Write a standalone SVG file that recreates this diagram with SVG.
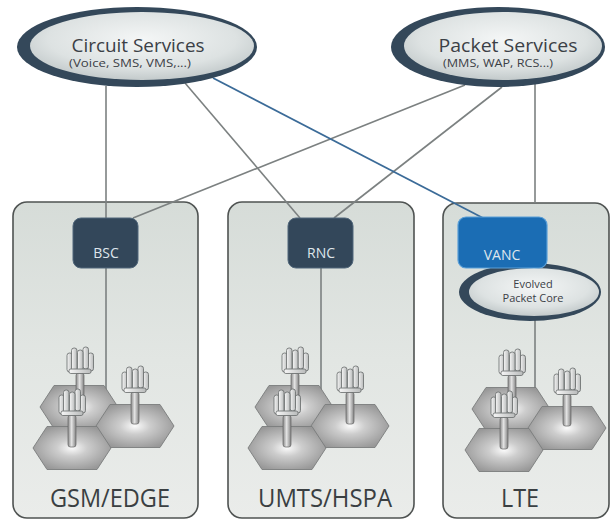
<svg xmlns="http://www.w3.org/2000/svg" xmlns:xlink="http://www.w3.org/1999/xlink" width="614" height="521" viewBox="0 0 614 521">
  <defs>
    <style>
      .panel { fill: url(#panelFill); stroke: #4f5352; stroke-width: 1.6; }
      .ring { fill: #34485a; }
      .core { fill: url(#coreFill); }
      .box { fill: #33475a; stroke: #51677b; stroke-width: 1; }
      .link { fill: none; stroke: #7c8181; stroke-width: 1.6; }
      .link-blue { fill: none; stroke: #3b6b98; stroke-width: 1.8; }
      .title { font-family: "Open Sans", "Liberation Sans", sans-serif; fill: #3b4046; }
      .boxtext { font-family: "Open Sans", "Liberation Sans", sans-serif; font-size: 14px; fill: #dfe6ec; text-anchor: middle; }
      .label { font-family: "Open Sans", "Liberation Sans", sans-serif; font-size: 25px; fill: #3a3f42; text-anchor: middle; }
      .hex { fill: url(#hexFill); stroke: #7b7d7d; stroke-width: 0.9; }
      .ant { fill: url(#antFill); stroke: #66696a; stroke-width: 0.8; }
      .pole { fill: url(#poleFill); stroke: #666; stroke-width: 0.7; }
    </style>
    <linearGradient id="panelFill" x1="0" y1="0" x2="0" y2="1">
      <stop offset="0" stop-color="#d6dcd8"/>
      <stop offset="0.5" stop-color="#e2e6e3"/>
      <stop offset="1" stop-color="#eaecea"/>
    </linearGradient>
    <radialGradient id="coreFill" cx="0.5" cy="0.4" r="0.6">
      <stop offset="0" stop-color="#f4f6f6"/>
      <stop offset="0.7" stop-color="#dde2e2"/>
      <stop offset="1" stop-color="#c3cacb"/>
    </radialGradient>
    <radialGradient id="hexFill" cx="0.5" cy="0.5" r="0.55">
      <stop offset="0" stop-color="#fbfbfb"/>
      <stop offset="0.35" stop-color="#cdcdcd"/>
      <stop offset="1" stop-color="#989898"/>
    </radialGradient>
    <linearGradient id="poleFill" x1="0" y1="0" x2="1" y2="0">
      <stop offset="0" stop-color="#8a8a8a"/>
      <stop offset="0.45" stop-color="#e4e4e4"/>
      <stop offset="1" stop-color="#828282"/>
    </linearGradient>
    <linearGradient id="antFill" x1="0" y1="0" x2="1" y2="0">
      <stop offset="0" stop-color="#f6f6f6"/>
      <stop offset="1" stop-color="#b9bbbb"/>
    </linearGradient>
    <polygon id="hex" class="hex" points="-39,0 -25,-21.5 25,-21.5 39,0 25,21.5 -25,21.5"/>
    <g id="tower">
      <rect class="pole" x="-4" y="-32" width="8" height="32" rx="2.5"/>
      <rect class="ant" x="-13" y="-52" width="5.5" height="19" rx="2.5"/>
      <rect class="ant" x="8" y="-52" width="5.5" height="18" rx="2.5"/>
      <rect class="ant" x="-8.5" y="-57" width="5.5" height="23" rx="2.5"/>
      <rect class="ant" x="3" y="-58" width="5.5" height="22" rx="2.5"/>
      <rect class="ant" x="-2.5" y="-55" width="5.5" height="21" rx="2.5"/>
      <rect class="ant" x="-11" y="-36" width="22" height="4.5" rx="1.8"/>
    </g>
    <!-- three hex cells with a tower on each; origin at panel's left edge -->
    <g id="cells">
      <use xlink:href="#hex" x="79" y="407"/>
      <use xlink:href="#hex" x="135" y="426"/>
      <use xlink:href="#hex" x="72" y="448"/>
      <use xlink:href="#tower" x="80" y="405"/>
      <use xlink:href="#tower" x="135" y="424"/>
      <use xlink:href="#tower" x="72" y="447"/>
    </g>
  </defs>

  <rect width="614" height="521" fill="#ffffff"/>

  <!-- access network panels -->
  <g id="panel-gsm">
    <rect class="panel" x="13" y="202" width="185" height="316" rx="14"/>
    <text class="label" x="110" y="507" textLength="120" lengthAdjust="spacingAndGlyphs">GSM/EDGE</text>
  </g>
  <g id="panel-umts">
    <rect class="panel" x="228" y="202" width="186" height="316" rx="14"/>
    <text class="label" x="325" y="507" textLength="134" lengthAdjust="spacingAndGlyphs">UMTS/HSPA</text>
  </g>
  <g id="panel-lte">
    <rect class="panel" x="443" y="203" width="166" height="315" rx="14"/>
    <text class="label" x="520" y="507" textLength="38" lengthAdjust="spacingAndGlyphs">LTE</text>
  </g>

  <!-- connectors -->
  <g id="connectors">
    <line class="link" x1="106" y1="86" x2="106" y2="218"/>
    <line class="link" x1="185" y1="83" x2="300" y2="218"/>
    <line class="link" x1="465" y1="85" x2="133" y2="218"/>
    <line class="link" x1="502" y1="87" x2="334" y2="218"/>
    <line class="link" x1="535" y1="84" x2="535" y2="203"/>
    <line class="link-blue" x1="213" y1="78" x2="483" y2="218"/>
    <line class="link" x1="106" y1="268" x2="106" y2="394"/>
    <line class="link" x1="321" y1="268" x2="321" y2="394"/>
    <line class="link" x1="535" y1="318" x2="535" y2="394"/>
  </g>

  <!-- core services -->
  <g id="circuit-services">
    <ellipse class="ring" cx="137" cy="47" rx="120" ry="40"/>
    <ellipse class="core" cx="142" cy="46" rx="112" ry="34"/>
    <text class="title" x="138" y="52" font-size="18" text-anchor="middle" textLength="133" lengthAdjust="spacingAndGlyphs">Circuit Services</text>
    <text class="title" x="130" y="67" font-size="10.5" text-anchor="middle" textLength="122" lengthAdjust="spacingAndGlyphs">(Voice, SMS, VMS,...)</text>
  </g>
  <g id="packet-services">
    <ellipse class="ring" cx="498" cy="47" rx="107" ry="40"/>
    <ellipse class="core" cx="503" cy="46" rx="99" ry="34"/>
    <text class="title" x="508" y="52" font-size="18" text-anchor="middle" textLength="139" lengthAdjust="spacingAndGlyphs">Packet Services</text>
    <text class="title" x="498" y="67" font-size="10.5" text-anchor="middle" textLength="110" lengthAdjust="spacingAndGlyphs">(MMS, WAP, RCS...)</text>
  </g>

  <!-- controllers -->
  <g id="bsc">
    <rect class="box" x="73" y="218" width="65" height="50" rx="8"/>
    <text class="boxtext" x="106" y="258">BSC</text>
  </g>
  <g id="rnc">
    <rect class="box" x="288" y="218" width="65" height="50" rx="8"/>
    <text class="boxtext" x="321" y="258">RNC</text>
  </g>
  <g id="epc">
    <ellipse class="ring" cx="530" cy="292" rx="71" ry="29"/>
    <ellipse class="core" cx="534" cy="292" rx="65" ry="24"/>
    <text class="title" x="533" y="288" font-size="11" text-anchor="middle">Evolved</text>
    <text class="title" x="533" y="302" font-size="11" text-anchor="middle">Packet Core</text>
  </g>
  <g id="vanc">
    <rect x="458" y="217" width="89" height="51" rx="8" fill="#1b6db4" stroke="#5a9fd8" stroke-width="1.2"/>
    <text class="boxtext" x="502" y="260" font-size="15" fill="#e6f0fa">VANC</text>
  </g>

  <!-- radio cells -->
  <g id="cells-gsm"><use xlink:href="#cells" x="0" y="0"/></g>
  <g id="cells-umts"><use xlink:href="#cells" x="215" y="0"/></g>
  <g id="cells-lte"><use xlink:href="#cells" x="432" y="2"/></g>
</svg>
